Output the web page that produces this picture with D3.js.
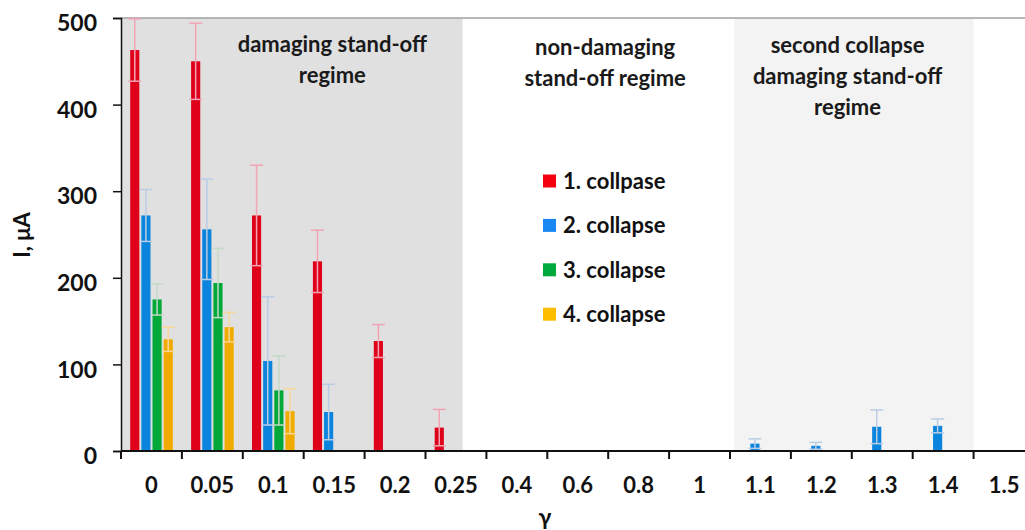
<!DOCTYPE html>
<html>
<head>
<meta charset="utf-8">
<script src="https://cdn.jsdelivr.net/npm/d3@7"></script>
<style>
  html, body { margin: 0; padding: 0; background: #fff; }
  svg { display: block; font-family: Lato, "Open Sans", sans-serif; font-weight: 700; }
</style>
</head>
<body>
<svg id="chart" width="1025" height="530"></svg>
<script>
// Stand-off parameter gamma (category axis)
const categories = ["0", "0.05", "0.1", "0.15", "0.2", "0.25", "0.4", "0.6", "0.8", "1", "1.1", "1.2", "1.3", "1.4", "1.5"];

// Mean current per collapse (µA) and its standard deviation
const collapse1    = [463, 450, 272, 219, 127, 27, 0, 0, 0, 0, 0, 0, 0, 0, 0];
const collapse1Err = [36, 44, 58, 36, 19, 21, 0, 0, 0, 0, 0, 0, 0, 0, 0];
const collapse2    = [272, 256, 104, 45, 0, 0, 0, 0, 0, 0, 8.5, 6, 28, 29, 0];
const collapse2Err = [30, 58, 74, 32, 0, 0, 0, 0, 0, 0, 5.5, 4, 19.5, 8, 0];
const collapse3    = [175, 194, 70, 0, 0, 0, 0, 0, 0, 0, 0, 0, 0, 0, 0];
const collapse3Err = [18, 40, 40, 0, 0, 0, 0, 0, 0, 0, 0, 0, 0, 0, 0];
const collapse4    = [129, 143, 46, 0, 0, 0, 0, 0, 0, 0, 0, 0, 0, 0, 0];
const collapse4Err = [14, 17, 26, 0, 0, 0, 0, 0, 0, 0, 0, 0, 0, 0, 0];

const seriesNames = ["1. collpase", "2. collapse", "3. collapse", "4. collapse"];
const yTicks = [0, 100, 200, 300, 400, 500];

const series = [
  { name: seriesNames[0], values: collapse1, errors: collapse1Err, color: "#df0019", errColor: "#f2a4b4", key: "#f5000f" },
  { name: seriesNames[1], values: collapse2, errors: collapse2Err, color: "#0a84dc", errColor: "#b9cde6", key: "#1a88f2" },
  { name: seriesNames[2], values: collapse3, errors: collapse3Err, color: "#00a83a", errColor: "#c4d9c6", key: "#00aa3c" },
  { name: seriesNames[3], values: collapse4, errors: collapse4Err, color: "#f0aa00", errColor: "#f6d898", key: "#ffbd00" }
];

// Shaded regime bands: start/end given as category + fraction of its band
const regimes = [
  { from: ["0", 0], to: ["0.25", 0.61], fill: "#e0e0e0",
    lines: ["damaging stand-off", "regime"], at: ["0.15", 0.47], baseline: 52 },
  { from: null, to: null, fill: null,
    lines: ["non-damaging", "stand-off regime"], at: ["0.8", -0.05], baseline: 55 },
  { from: ["1.1", 0.07], to: ["1.5", 0], fill: "#f3f3f3",
    lines: ["second collapse", "damaging stand-off", "regime"], at: ["1.2", 0.93], baseline: 53 }
];

const svg = d3.select("#chart");
const plotLeft = 121, plotTop = 18, plotBottom = 451, bandStep = 60.9;

const x0 = d3.scaleBand().domain(categories).range([plotLeft, plotLeft + bandStep * categories.length]).padding(0);
const x1 = d3.scaleBand().domain(seriesNames).range([9.2, 51.8]).paddingInner(0.18).paddingOuter(0);
const y = d3.scaleLinear().domain([0, 500]).range([plotBottom, plotTop]);

const pos = (ref) => x0(ref[0]) + ref[1] * x0.bandwidth();

// regime backgrounds
svg.append("g").selectAll("rect")
  .data(regimes.filter(r => r.fill))
  .join("rect")
  .attr("x", r => pos(r.from))
  .attr("y", y(500))
  .attr("width", r => pos(r.to) - pos(r.from))
  .attr("height", y(0) - y(500))
  .attr("fill", r => r.fill);

// top frame line of the plot area
svg.append("line")
  .attr("x1", plotLeft).attr("x2", 1025)
  .attr("y1", y(500)).attr("y2", y(500))
  .attr("stroke", "#a0a0a0").attr("stroke-width", 1.5);

// regime captions
const cap = svg.append("g").attr("font-size", 22).attr("fill", "#1a1a1a").attr("text-anchor", "middle");
regimes.forEach(r => {
  const t = cap.append("text").attr("x", pos(r.at)).attr("y", r.baseline);
  r.lines.forEach((ln, i) => t.append("tspan").attr("x", pos(r.at)).attr("dy", i === 0 ? 0 : 31).text(ln));
});

// bars
const groups = svg.append("g").selectAll("g")
  .data(series)
  .join("g")
  .attr("fill", s => s.color);

groups.selectAll("rect")
  .data(s => categories.map((c, i) => ({ c, v: s.values[i], e: s.errors[i], s })).filter(d => d.v > 0))
  .join("rect")
  .attr("x", d => x0(d.c) + x1(d.s.name))
  .attr("y", d => y(d.v))
  .attr("width", x1.bandwidth())
  .attr("height", d => y(0) - y(d.v));

// error bars
const capHalf = 6.5;
const errs = svg.append("g").selectAll("g")
  .data(series.flatMap(s => categories.map((c, i) => ({ c, v: s.values[i], e: s.errors[i], s }))).filter(d => d.v > 0 && d.e > 0))
  .join("g")
  .attr("stroke", d => d.s.errColor)
  .attr("stroke-width", 1.5);

errs.each(function (d) {
  const g = d3.select(this);
  const cx = x0(d.c) + x1(d.s.name) + x1.bandwidth() / 2;
  const hi = y(d.v + d.e), lo = y(Math.max(0, d.v - d.e));
  g.append("line").attr("x1", cx).attr("x2", cx).attr("y1", hi).attr("y2", lo);
  g.append("line").attr("x1", cx - capHalf).attr("x2", cx + capHalf).attr("y1", hi).attr("y2", hi);
  g.append("line").attr("x1", cx - capHalf).attr("x2", cx + capHalf).attr("y1", lo).attr("y2", lo);
});

// y axis
const yAxis = svg.append("g")
  .attr("transform", `translate(${plotLeft},0)`)
  .call(d3.axisLeft(y).tickValues(yTicks).tickSize(8).tickPadding(16));
yAxis.select(".domain").attr("stroke", "#111").attr("stroke-width", 1.5);
yAxis.selectAll(".tick line").attr("stroke", "#111").attr("stroke-width", 1.5);
yAxis.selectAll(".tick text")
  .attr("font-family", "Lato, sans-serif").attr("font-weight", 700)
  .attr("font-size", 23).attr("fill", "#111").attr("dy", "0.55em");

// x axis: ticks on band boundaries, labels centred in bands
const xg = svg.append("g");
xg.append("line")
  .attr("x1", plotLeft).attr("x2", 1025)
  .attr("y1", plotBottom).attr("y2", plotBottom)
  .attr("stroke", "#111").attr("stroke-width", 2);
xg.selectAll("line.tk")
  .data(categories)
  .join("line").attr("class", "tk")
  .attr("x1", c => x0(c)).attr("x2", c => x0(c))
  .attr("y1", plotBottom).attr("y2", plotBottom + 8)
  .attr("stroke", "#111").attr("stroke-width", 2);
xg.selectAll("text")
  .data(categories)
  .join("text")
  .attr("x", c => x0(c) + x0.bandwidth() / 2)
  .attr("y", plotBottom + 42)
  .attr("text-anchor", "middle")
  .attr("font-size", 22).attr("fill", "#111")
  .text(c => c);

// axis titles
svg.append("text")
  .attr("x", 545).attr("y", 525)
  .attr("text-anchor", "middle").attr("font-size", 23).attr("fill", "#111")
  .text("γ");
svg.append("text")
  .attr("transform", "translate(30,235) rotate(-90)")
  .attr("text-anchor", "middle").attr("font-size", 22).attr("fill", "#111")
  .text("I, μA");

// legend
const legend = svg.append("g").attr("transform", "translate(543,181)");
const item = legend.selectAll("g")
  .data(series)
  .join("g")
  .attr("transform", (d, i) => `translate(0,${i * 44.4})`);
item.append("rect")
  .attr("x", 0).attr("y", -6.5).attr("width", 13).attr("height", 13)
  .attr("fill", d => d.key);
item.append("text")
  .attr("x", 20).attr("y", 8)
  .attr("font-size", 22).attr("fill", "#111")
  .text(d => d.name);
</script>
</body>
</html>
